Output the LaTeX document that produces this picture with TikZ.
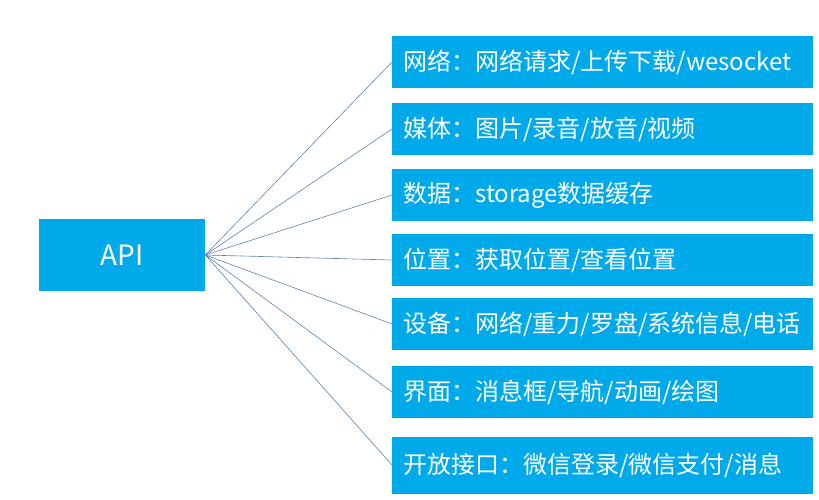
\documentclass[tikz,border=0pt]{standalone}
\usepackage{fontspec}
\newfontfamily\cjk{Noto Sans CJK SC}
\usetikzlibrary{positioning}

\definecolor{boxblue}{RGB}{0,169,234}
\definecolor{linkblue}{RGB}{92,130,176}

\begin{document}
\begin{tikzpicture}[x=1pt, y=-1pt, line width=0.6pt,
	box/.style={fill=boxblue, text=white, inner xsep=11pt, inner ysep=0pt,
		minimum height=52pt, font=\cjk\fontsize{24}{28}\selectfont},
	item/.style={box, anchor=west, text width=399pt, align=left},
	link/.style={draw=linkblue, line width=0.6pt}]

	\useasboundingbox (0, 0) rectangle (819, 500);

	\node[box, minimum width=166pt, minimum height=72pt, font=\cjk\fontsize{28}{30}\selectfont] (api) at (122, 255) {API};

	\node[item] (net) at (392, 62) {网络：网络请求/上传下载/wesocket};
	\node[item] (media) at (392, 129) {媒体：图片/录音/放音/视频};
	\node[item] (data) at (392, 195) {数据：storage数据缓存};
	\node[item] (loc) at (392, 260) {位置：获取位置/查看位置};
	\node[item] (dev) at (392, 324) {设备：网络/重力/罗盘/系统信息/电话};
	\node[item] (ui) at (392, 392) {界面：消息框/导航/动画/绘图};
	\node[item, minimum height=57pt] (open) at (392, 465) {开放接口：微信登录/微信支付/消息};

	% API -> 各分类
	\draw[link] (api.east) -- (net.west);
	\draw[link] (api.east) -- (media.west);
	\draw[link] (api.east) -- (data.west);
	\draw[link] (api.east) -- (loc.west);
	\draw[link] (api.east) -- (dev.west);
	\draw[link] (api.east) -- (ui.west);
	\draw[link] (api.east) -- (open.west);

\end{tikzpicture}
\end{document}
